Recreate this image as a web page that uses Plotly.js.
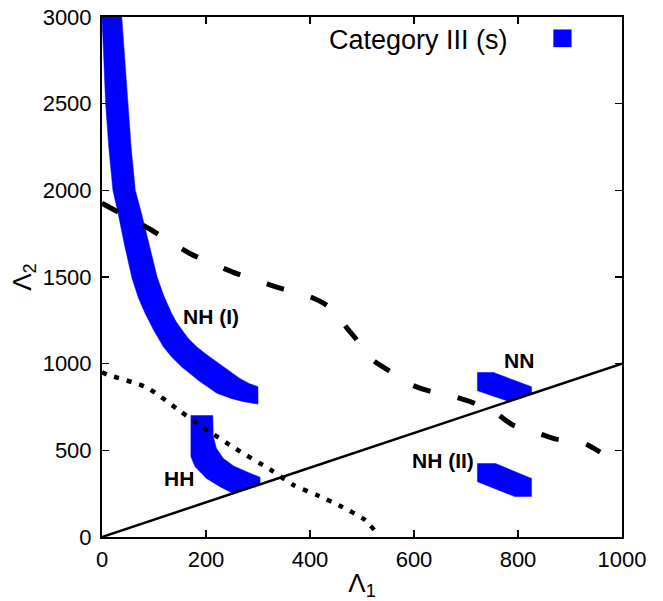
<!DOCTYPE html>
<html>
<head>
<meta charset="utf-8">
<script src="https://cdn.plot.ly/plotly-3.0.1.min.js"></script>
<style>html,body{margin:0;padding:0;background:#fff;}#chart{width:663px;height:601px;}</style>
</head>
<body>
<div id="chart"></div>
<script>
// Region NH (I) boundary (left edge downward, then right edge upward)
const nh1X = [0, 3, 7, 13, 21, 31, 44, 58, 70, 83, 100, 118, 135, 153, 187, 221, 250, 272, 300,
              300, 283, 265, 243, 221, 200, 182, 166, 155, 143, 134, 119, 106, 92, 76, 64, 56, 50, 44, 38];
const nh1Y = [3000, 2750, 2500, 2250, 2000, 1867, 1675, 1490, 1380, 1290, 1190, 1098, 1035, 982, 900, 829, 798, 781, 767,
              867, 885, 915, 962, 1011, 1055, 1098, 1145, 1190, 1240, 1290, 1390, 1500, 1675, 1867, 2000, 2250, 2500, 2750, 3000];
// Region HH
const hhX = [171, 171, 179, 201, 227, 249, 304, 304, 278, 253, 233, 220, 214, 213];
const hhY = [703, 463, 406, 338, 290, 256, 306, 344, 377, 410, 454, 512, 579, 703];
// Region NN
const nnX = [722, 722, 780, 826, 826, 752];
const nnY = [950, 844, 785, 822, 867, 950];
// Region NH (II)
const nh2X = [722, 722, 794, 826, 826, 756];
const nh2Y = [425, 319, 233, 233, 338, 425];
// Dashed curve
const dashX = [0, 95, 169, 249, 333, 400, 432, 455, 467, 487, 521, 550, 596, 627, 681, 713, 762, 790, 840, 871, 927, 958];
const dashY = [1925, 1771, 1636, 1531, 1444, 1386, 1338, 1280, 1222, 1148, 1021, 963, 877, 844, 806, 775, 704, 646, 598, 566, 540, 490];
// Dotted curve
const dotX = [0, 12, 86, 149, 192, 256, 323, 368, 413, 461, 506, 525];
const dotY = [950, 935, 863, 729, 637, 511, 390, 300, 242, 175, 98, 35];
// Solid line Λ2 = Λ1
const diagX = [0, 1000];
const diagY = [0, 1000];
// Region labels
const labelText = ["NH (I)", "HH", "NN", "NH (II)"];
const labelX = [210, 148, 802, 655];
const labelY = [1275, 340, 1021, 444];
const legendText = "Category III (s)";
const xTicks = [0, 200, 400, 600, 800, 1000];
const yTicks = [0, 500, 1000, 1500, 2000, 2500, 3000];

const BLUE = "#0000ff";
function region(x, y) {
  return {x: x, y: y, type: "scatter", mode: "lines", fill: "toself",
          fillcolor: BLUE, line: {width: 0.5, color: BLUE}, hoverinfo: "skip", showlegend: false};
}
const traces = [
  region(nh1X, nh1Y), region(hhX, hhY), region(nnX, nnY), region(nh2X, nh2Y),
  {x: dashX, y: dashY, type: "scatter", mode: "lines", line: {color: "#000", width: 5, dash: "18px,28px", shape: "spline", smoothing: 0.6}, showlegend: false},
  {x: dotX, y: dotY, type: "scatter", mode: "lines", line: {color: "#000", width: 4.5, dash: "5px,8px", shape: "spline", smoothing: 0.6}, showlegend: false},
  {x: diagX, y: diagY, type: "scatter", mode: "lines", line: {color: "#000", width: 2.5}, showlegend: false}
];

const FONT = "Liberation Sans, Arial, Helvetica, sans-serif";
const annotations = labelText.map((t, i) => ({
  x: labelX[i], y: labelY[i], xref: "x", yref: "y", text: "<b>" + t + "</b>",
  showarrow: false, xanchor: "center", yanchor: "middle",
  font: {family: FONT, size: 21, color: "#000"}
}));
annotations.push({
  x: 0.608, y: 0.956, xref: "paper", yref: "paper", text: legendText,
  showarrow: false, xanchor: "center", yanchor: "middle",
  font: {family: FONT, size: 27, color: "#000"}
});

const axisCommon = {
  showgrid: false, zeroline: false, showline: true, linecolor: "#000", linewidth: 2,
  mirror: "ticks", ticks: "inside", ticklen: 7, tickwidth: 1.5, tickcolor: "#000",
  tickfont: {family: FONT, size: 22, color: "#000"}
};
const layout = {
  width: 663, height: 601,
  margin: {l: 102, r: 41, t: 17, b: 64, pad: 0},
  paper_bgcolor: "#fff", plot_bgcolor: "#fff",
  showlegend: false,
  xaxis: Object.assign({}, axisCommon, {range: [0, 1000], tickvals: xTicks, ticktext: xTicks.map(String),
    ticklabelstandoff: 2,
    title: {text: "Λ<sub>1</sub>", font: {family: FONT, size: 26, color: "#000"}, standoff: 2}}),
  yaxis: Object.assign({}, axisCommon, {range: [0, 3000], tickvals: yTicks, ticktext: yTicks.map(String),
    ticklabelstandoff: 4,
    title: {text: "Λ<sub>2</sub>", font: {family: FONT, size: 26, color: "#000"}, standoff: 4}}),
  shapes: [{type: "rect", xref: "paper", yref: "paper", x0: 0.868, x1: 0.903, y0: 0.942, y1: 0.976,
            fillcolor: BLUE, line: {width: 0}}],
  annotations: annotations
};
Plotly.newPlot("chart", traces, layout, {displayModeBar: false, staticPlot: true});
</script>
</body>
</html>
